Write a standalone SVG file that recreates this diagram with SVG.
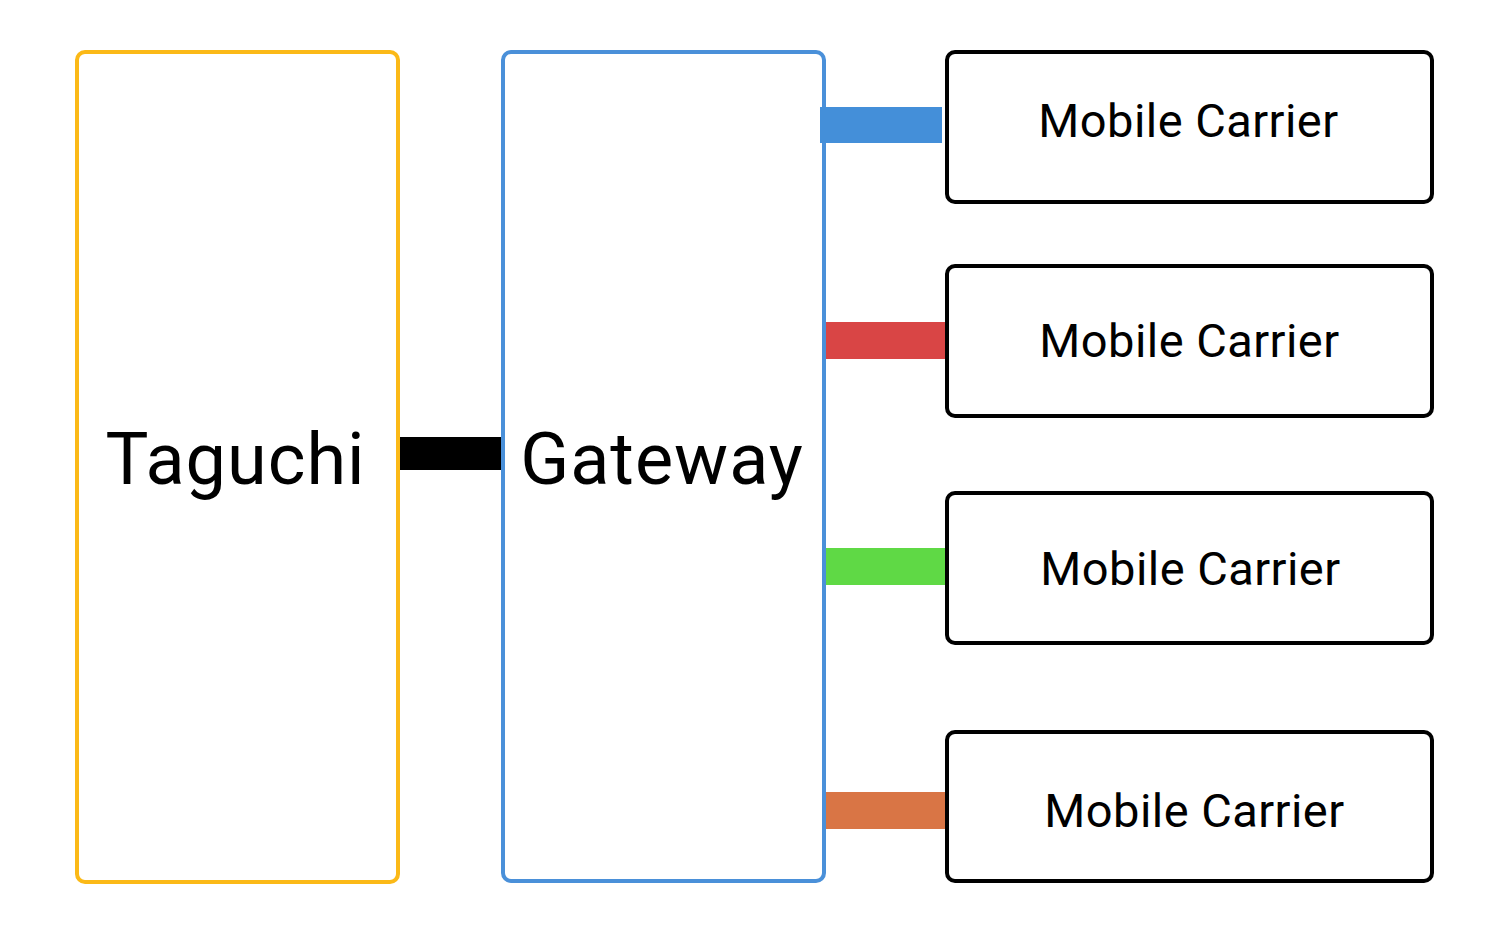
<svg xmlns="http://www.w3.org/2000/svg" width="1510" height="941" viewBox="0 0 1510 941">
<style>
.box{fill:#fff;stroke-width:4}
.big{font-family:Roboto,"Liberation Sans",sans-serif;font-size:72px;fill:#000;text-anchor:middle;letter-spacing:1px}
.mc{font-family:Roboto,"Liberation Sans",sans-serif;font-size:47px;fill:#000;text-anchor:middle;letter-spacing:0.45px}
</style>
<rect width="1510" height="941" fill="#fff"/>
<g id="taguchi">
<rect class="box" x="77" y="52" width="321" height="830" rx="8" stroke="#fbb917"/>
<text class="big" x="235.5" y="484">Taguchi</text>
</g>
<g id="gateway">
<rect class="box" x="503" y="52" width="321" height="829" rx="8" stroke="#4a90d9"/>
<text class="big" x="662" y="484">Gateway</text>
</g>
<g id="carrier1">
<rect class="box" x="947" y="52" width="485" height="150" rx="8" stroke="#000"/>
<text class="mc" x="1188.5" y="137">Mobile Carrier</text>
</g>
<g id="carrier2">
<rect class="box" x="947" y="266" width="485" height="150" rx="8" stroke="#000"/>
<text class="mc" x="1189.5" y="357">Mobile Carrier</text>
</g>
<g id="carrier3">
<rect class="box" x="947" y="493" width="485" height="150" rx="8" stroke="#000"/>
<text class="mc" x="1190.5" y="585">Mobile Carrier</text>
</g>
<g id="carrier4">
<rect class="box" x="947" y="732" width="485" height="149" rx="8" stroke="#000"/>
<text class="mc" x="1194.5" y="827">Mobile Carrier</text>
</g>
<g id="connectors">
<rect x="400" y="437" width="101" height="33" fill="#000"/>
<rect x="820" y="107" width="122" height="36" fill="#448fd9"/>
<rect x="826" y="322" width="119" height="37" fill="#d94545"/>
<rect x="826" y="548" width="119" height="37" fill="#5fd945"/>
<rect x="826" y="792" width="119" height="37" fill="#d97545"/>
</g>
</svg>
